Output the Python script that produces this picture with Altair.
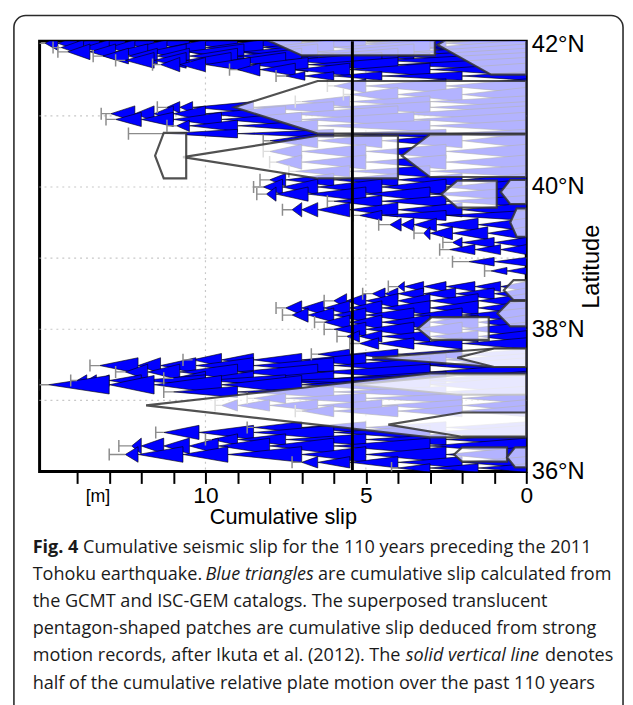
import altair as alt
import pandas as pd

# ------------------------------------------------------------------ data
X_DOMAIN = [0, 15.17]          # cumulative slip [m], reversed axis
Y_DOMAIN = [36, 42.05]         # latitude

# rows of stacked left-pointing triangles (cumulative slip per latitude)
ROW_LAT = [
    42.02, 41.96, 41.90, 41.84, 41.78, 41.72, 41.65, 41.56,
    41.42, 41.30, 41.20, 41.12, 41.03, 40.95, 40.86, 40.75,
    40.65, 40.50, 40.35, 40.22, 40.10, 40.00, 39.90, 39.80,
    39.68, 39.60, 39.47, 39.35, 39.22, 39.12, 38.95, 38.82,
    38.60, 38.50, 38.40, 38.30, 38.20, 38.10, 38.00, 37.90, 37.80,
    37.65, 37.57, 37.49, 37.40, 37.31, 37.28, 37.22, 37.12, 37.03, 36.93, 36.85,
    36.62, 36.55, 36.45, 36.36, 36.24, 36.13, 36.05,
]
ROW_H = [
    0.10, 0.11, 0.11, 0.11, 0.11, 0.10, 0.09, 0.06,
    0.10, 0.10, 0.08, 0.08, 0.11, 0.10, 0.08, 0.06,
    0.10, 0.10, 0.10, 0.08, 0.09, 0.11, 0.10, 0.08,
    0.10, 0.07, 0.09, 0.09, 0.07, 0.07, 0.06, 0.05,
    0.07, 0.08, 0.10, 0.10, 0.10, 0.10, 0.10, 0.08, 0.08,
    0.07, 0.09, 0.11, 0.11, 0.10, 0.08, 0.13, 0.08, 0.07, 0.08, 0.08,
    0.08, 0.10, 0.08, 0.11, 0.11, 0.08, 0.06,
]
ROW_ERR = [
    0.25, 0.25, 0.3, 0.3, 0.3, 0.25, 0.25, 0.3,
    0.2, 0.2, 0.2, 0.3, 0.3, 0.3, 0.3, 1.2,
    0.2, 0.2, 0.2, 0.2, 0.3, 0.3, 0.3, 0.2,
    0.3, 0.2, 0.35, 0.3, 0.3, 0.3, 0.5, 0.2,
    0.3, 0.3, 0.3, 0.3, 0.3, 0.3, 0.3, 0.3, 0.3,
    0.2, 0.3, 0.3, 0.3, 0.3, 0.2, 0.3, 0.3, 0.2, 0.2, 0.2,
    0.2, 0.25, 0.2, 0.4, 0.5, 0.3, 0.2,
]
ROW_TIPS = [
    [2.5, 5.0, 7.0, 9.0, 10.5, 11.6, 12.5, 13.3, 14.0, 14.6, 15.0],
    [3.0, 6.0, 8.2, 10.0, 11.2, 12.2, 13.0, 13.8, 14.5],
    [3.5, 6.5, 8.8, 10.6, 11.8, 12.8, 13.6, 14.3],
    [4.0, 7.0, 9.0, 10.5, 11.5, 12.4, 13.2],
    [4.5, 7.5, 9.2, 10.6, 11.6, 12.5],
    [4.0, 6.8, 8.6, 10.0, 10.8, 11.4],
    [3.0, 5.5, 7.2, 8.3, 9.0],
    [2.0, 4.5, 6.0, 6.9, 7.5],
    [2.5, 5.0, 6.0],
    [2.0, 4.0, 5.5],
    [3.0, 5.5, 7.0],
    [3.0, 6.0, 8.5, 10.4, 10.8, 11.2],
    [4.0, 7.5, 10.0, 11.0, 11.6, 12.2, 12.95],
    [3.5, 7.0, 9.5, 11.0, 12.0, 12.8],
    [3.0, 6.5, 9.0, 10.5, 10.9],
    [2.5, 6.0, 9.0, 11.2],
    [2.0, 4.5, 6.5, 8.0],
    [2.5, 5.0, 7.0, 8.0],
    [2.5, 5.0, 7.0, 7.8],
    [3.0, 5.5, 7.2],
    [2.0, 4.0, 6.0, 7.5, 8.0],
    [2.5, 4.5, 6.5, 7.6, 8.2],
    [3.0, 5.0, 6.8, 7.8, 8.1],
    [2.5, 4.5, 6.0],
    [2.0, 4.0, 5.5, 6.5, 7.0, 7.3],
    [2.5, 4.5, 5.2],
    [1.5, 2.8, 3.5, 3.9, 4.25],
    [1.2, 2.3, 3.0, 3.2],
    [1.0, 2.0, 2.3],
    [0.8, 1.6, 2.4],
    [1.0, 1.8],
    [0.6, 1.1],
    [0.8, 1.6, 2.5, 3.2, 3.8, 4.0],
    [1.0, 2.2, 3.2, 4.0, 4.4, 4.8],
    [1.5, 3.0, 4.0, 5.0, 5.6, 6.0],
    [1.5, 3.0, 4.5, 5.5, 6.3, 7.0, 7.5],
    [2.0, 3.5, 5.0, 6.0, 6.8, 7.3],
    [1.5, 3.0, 4.5, 5.5, 6.3],
    [2.0, 3.5, 5.0, 6.0],
    [1.5, 3.0, 4.5, 5.2, 5.6],
    [2.0, 3.5, 4.6, 5.2],
    [2.0, 4.0, 5.5, 6.5],
    [2.5, 5.0, 7.0, 8.5, 9.5, 10.4],
    [3.0, 6.0, 8.5, 10.3, 11.4, 12.1, 13.3],
    [3.0, 6.5, 9.0, 10.8, 11.8, 12.5],
    [2.5, 6.0, 8.5, 10.0, 11.0],
    [3.0, 7.5, 10.0, 12.0, 13.0, 13.4, 13.7, 14.0],
    [3.0, 7.0, 9.5, 11.6, 13.0, 14.9],
    [2.5, 6.0, 9.0, 11.0],
    [2.0, 5.0, 7.5, 8.5],
    [2.0, 4.5, 6.5, 8.0, 9.0, 9.5],
    [2.0, 4.0, 6.0, 7.0],
    [2.5, 5.0, 7.0, 8.5],
    [3.0, 6.0, 8.5, 10.2, 11.3],
    [2.5, 5.0, 7.5, 9.0, 9.8],
    [3.0, 6.0, 8.0, 9.6, 10.5, 11.3, 12.0, 12.3],
    [2.5, 5.0, 7.0, 9.3, 10.7, 12.1, 12.5],
    [2.0, 4.0, 5.5, 6.5, 7.0],
    [1.5, 3.0, 4.0],
]

# pentagon-shaped strong-motion patches
PEN_LAT = [42.05, 42.00, 41.12, 40.42, 40.44, 40.44, 39.90, 39.93, 39.50,
           38.55, 38.22, 38.01, 37.60, 37.60, 37.22, 36.93, 36.66, 36.24, 36.20]
PEN_TIP = [8.0, 2.77, 9.1, 10.7, 11.57, 3.88, 2.65, 0.8, 0.5,
           0.7, 0.9, 3.38, 4.8, 2.15, 5.4, 11.85, 4.3, 2.25, 0.6]
PEN_SHOULDER = [7.0, 1.1, 6.5, 6.5, 11.3, 3.0, 2.15, 0.5, 0.3,
                0.4, 0.5, 2.95, 1.0, 1.0, 2.15, 3.0, 2.0, 2.0, 0.35]
PEN_RIGHT = [2.85, 0.0, 0.0, 4.0, 10.6, 0.0, 0.92, 0.0, 0.0,
             0.0, 0.0, 1.17, 0.0, 0.0, 0.0, 0.0, 0.0, 0.6, 0.0]
PEN_H = [0.2, 0.42, 0.37, 0.3, 0.32, 0.3, 0.19, 0.17, 0.2,
         0.14, 0.18, 0.16, 0.13, 0.13, 0.14, 0.45, 0.17, 0.1, 0.14]

PLATE_HALF = 5.42                      # half of relative plate motion [m]
LAT_TICKS = [36, 38, 40, 42]
SLIP_TICKS = list(range(0, 15))
GRID_LAT = [37, 38, 39, 40, 41]
GRID_SLIP = [5, 10]
UNIT_POS = 13.35
CAPTION = [
    [("Fig. 4", "bold", "normal"), ("Cumulative seismic slip for the 110 years preceding the 2011", "normal", "normal")],
    [("Tohoku earthquake.", "normal", "normal"), ("Blue triangles", "normal", "italic"), ("are cumulative slip calculated from", "normal", "normal")],
    [("the GCMT and ISC-GEM catalogs. The superposed translucent", "normal", "normal")],
    [("pentagon-shaped patches are cumulative slip deduced from strong", "normal", "normal")],
    [("motion records, after Ikuta et al. (2012). The", "normal", "normal"), ("solid vertical line", "normal", "italic"), ("denotes", "normal", "normal")],
    [("half of the cumulative relative plate motion over the past 110 years", "normal", "normal")],
]
SEG_X = [[0, 51], [0, 175, 289], [0], [0], [0, 378, 519], [0]]

# ------------------------------------------------------------------ tables
tri_rows, err_rows, cap_rows = [], [], []
for i, (lat, h, err, tips) in enumerate(zip(ROW_LAT, ROW_H, ROW_ERR, ROW_TIPS)):
    prev = 0.0
    for k, tip in enumerate(tips):
        tid = f"t{i}_{k}"
        tri_rows += [
            {"id": tid, "lat": lat - h, "x": prev, "x2": prev},
            {"id": tid, "lat": lat, "x": tip, "x2": prev},
            {"id": tid, "lat": lat + h, "x": prev, "x2": prev},
        ]
        prev = tip
    last = tips[-1]
    err_rows.append({"lat": lat, "x": last, "x2": last + err})
    cap_rows.append({"x": last + err, "y": lat - 0.085, "y2": lat + 0.085})
tri = pd.DataFrame(tri_rows)
errs = pd.DataFrame(err_rows)
caps = pd.DataFrame(cap_rows)

pen_rows = []
for j, (lat, tip, sh, rt, h) in enumerate(zip(PEN_LAT, PEN_TIP, PEN_SHOULDER, PEN_RIGHT, PEN_H)):
    pid = f"p{j:02d}"
    pen_rows += [
        {"id": pid, "lat": lat - h, "x": sh, "x2": rt},
        {"id": pid, "lat": lat, "x": tip, "x2": rt},
        {"id": pid, "lat": lat + h, "x": sh, "x2": rt},
    ]
pen = pd.DataFrame(pen_rows)

# ------------------------------------------------------------------ chart
W, H = 493, 436
xs = alt.Scale(domain=X_DOMAIN, reverse=True, nice=False, zero=False)
ys = alt.Scale(domain=Y_DOMAIN, nice=False, zero=False)
AX_FONT = "Liberation Sans"

x_axis = alt.Axis(
    values=SLIP_TICKS, labelExpr="datum.value % 5 == 0 ? datum.label : ''",
    tickSize=12, tickWidth=2, tickColor="black", domain=False, grid=False,
    labelFont=AX_FONT, labelFontSize=23, labelColor="black", labelPadding=1,
    title="Cumulative slip", titleFont=AX_FONT, titleFontSize=22,
    titleFontWeight="normal", titleColor="black", titlePadding=0,
    labelFlush=False, labelOverlap=False,
)
y_axis = alt.Axis(
    orient="right", values=LAT_TICKS, labelExpr="datum.value + '°N'",
    ticks=False, domain=False, grid=False,
    labelFont=AX_FONT, labelFontSize=24, labelColor="black", labelPadding=5,
    title="Latitude", titleAngle=270, titleFont=AX_FONT, titleFontSize=24,
    titleFontWeight="normal", titleColor="black",
    titleX=66, titleY=228, titleAlign="center", titleBaseline="middle",
)

X = lambda f: alt.X(f, scale=xs, axis=x_axis)
Y = lambda f: alt.Y(f, scale=ys, axis=y_axis)

grid_h = alt.Chart(pd.DataFrame({"lat": GRID_LAT})).mark_rule(
    color="#c8c8c8", strokeWidth=1.2, strokeDash=[2, 4]
).encode(y=Y("lat:Q"))
grid_v = alt.Chart(pd.DataFrame({"s": GRID_SLIP})).mark_rule(
    color="#c8c8c8", strokeWidth=1.2, strokeDash=[2, 4]
).encode(x=X("s:Q"))

triangles = alt.Chart(tri).mark_area(
    orient="horizontal", fill="#0000ff", stroke="black", strokeWidth=0.6,
    clip=True, interpolate="linear"
).encode(
    y=Y("lat:Q"),
    x=alt.X("x:Q", scale=xs, axis=x_axis, stack=None),
    x2="x2:Q",
    detail="id:N",
)

err_lines = alt.Chart(errs).mark_rule(color="#8c8c8c", strokeWidth=1.3, clip=True).encode(
    y=Y("lat:Q"), x=X("x:Q"), x2="x2:Q",
)
err_caps = alt.Chart(caps).mark_rule(color="#8c8c8c", strokeWidth=1.5, clip=True).encode(
    x=X("x:Q"), y=Y("y:Q"), y2="y2:Q",
)

pentagons = alt.Chart(pen).mark_area(
    orient="horizontal", fill="white", fillOpacity=0.7, stroke="#333333",
    strokeWidth=2.2, strokeOpacity=0.85, clip=True, interpolate="linear"
).encode(
    y=Y("lat:Q"),
    x=alt.X("x:Q", scale=xs, axis=x_axis, stack=None),
    x2="x2:Q",
    detail="id:N",
)

plate_line = alt.Chart(pd.DataFrame({"s": [PLATE_HALF]})).mark_rule(
    color="black", strokeWidth=3
).encode(x=X("s:Q"))

unit_txt = alt.Chart(pd.DataFrame({"s": [UNIT_POS], "t": ["[m]"]})).mark_text(
    font=AX_FONT, fontSize=18, color="black", baseline="middle", align="center"
).encode(x=X("s:Q"), y=alt.value(H + 26), text="t:N")

cap_layers = []
LINE_Y0, LINE_DY = 513, 27.6
for li, (segs, offs) in enumerate(zip(CAPTION, SEG_X)):
    for (txt, wt, st), off in zip(segs, offs):
        cap_layers.append(
            alt.Chart(pd.DataFrame({"t": [txt]})).mark_text(
                font="Open Sans", fontSize=18.3, fontWeight=wt, fontStyle=st,
                color="#1a1a1a", align="left", baseline="middle"
            ).encode(x=alt.value(-7 + off), y=alt.value(LINE_Y0 + li * LINE_DY), text="t:N")
        )

frame = alt.Chart(pd.DataFrame({"a": [0]})).mark_rect(
    filled=False, stroke="#2a2a2a", strokeWidth=1.6, cornerRadius=12
).encode(x=alt.value(-26), x2=alt.value(591), y=alt.value(-26), y2=alt.value(740))

chart = alt.layer(
    grid_h, grid_v, triangles, err_lines, err_caps, pentagons, plate_line,
    unit_txt, frame, *cap_layers
).properties(
    width=W, height=H,
    autosize=alt.AutoSizeParams(type="none"),
    padding={"left": 32, "top": 29, "right": 100, "bottom": 240},
).configure_view(stroke="black", strokeWidth=3)

chart.save("out.html", embed_options={"renderer": "svg", "actions": False})
